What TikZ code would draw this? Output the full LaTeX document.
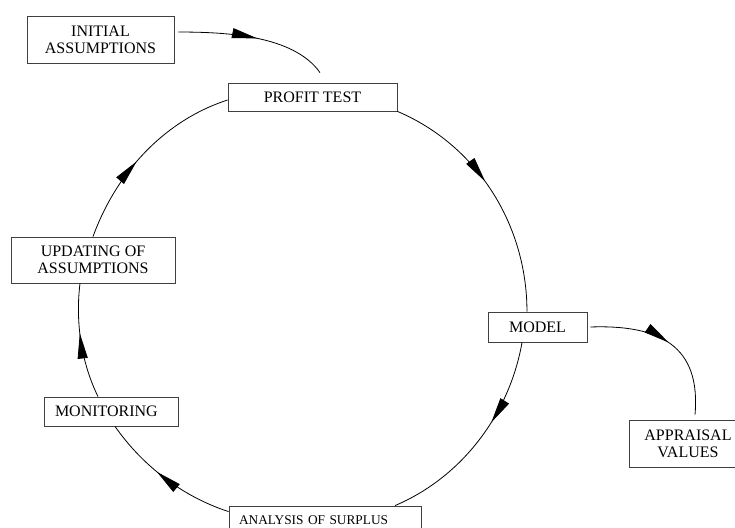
\documentclass[tikz,border=0pt]{standalone}
\usepackage{fontspec}
\setmainfont{Liberation Serif}
\usetikzlibrary{arrows.meta,decorations.markings}

\begin{document}
\begin{tikzpicture}[
        x=0.75pt, y=0.75pt,
        font=\fontsize{12}{13}\selectfont,
        box/.style={draw=black!75, line width=0.6pt, align=center, inner sep=0pt, fill=white},
        midarrow/.style={line width=0.6pt, postaction={decorate},
            decoration={markings, mark=at position #1 with {\arrow{Triangle[length=19pt, width=7.5pt]}}}},
    ]
        \useasboundingbox (0,0) rectangle (735,528);
        \clip (0,0) rectangle (735,528);

        \node[box, minimum width=110.25pt, minimum height=35.25pt] (initial) at (100.5,488.5) {INITIAL\\ASSUMPTIONS};
        \node[box, minimum width=126.75pt, minimum height=21pt] (profit) at (312.5,431) {PROFIT TEST};
        \node[box, minimum width=123pt, minimum height=34.5pt] (updating) at (93,268) {UPDATING OF\\ASSUMPTIONS};
        \node[box, minimum height=21.75pt, text width=84pt, inner xsep=8.25pt, align=left] (monitoring) at (111,116.5) {MONITORING};
        \node[box, minimum width=74.25pt, minimum height=22.5pt] (model) at (537.5,201) {MODEL};
        \node[box, minimum height=21pt, text width=129pt, inner xsep=7.5pt, align=left, font=\fontsize{10}{12}\selectfont] (analysis) at (325,8) {ANALYSIS OF SURPLUS};
        \node[box, minimum width=88.5pt, minimum height=35.25pt] (appraisal) at (688,84.5) {APPRAISAL\\VALUES};

        \draw[midarrow=0.52] ([xshift=3pt, yshift=5.6pt]initial.east) to[out=0, in=125, looseness=0.8] ([xshift=5.6pt, yshift=7.5pt]profit.north);

        \draw[midarrow=0.45] (profit.south east) to[out=-23, in=90, looseness=0.93] ([xshift=-7.9pt]model.north);
        \draw[midarrow=0.4] ([xshift=-11.6pt]model.south) to[out=-100, in=23, looseness=0.9] ([xshift=52.5pt]analysis.north);
        \draw[midarrow=0.57] ([yshift=-4.5pt]analysis.north west) to[out=162, in=-55, looseness=0.87] ([xshift=3pt]monitoring.south);
        \draw[midarrow=0.57] ([xshift=-9.75pt]monitoring.north) to[out=116, in=-97, looseness=0.86] ([xshift=-9.75pt]updating.south);
        \draw[midarrow=0.44] (updating.north) to[out=70, in=-162, looseness=0.9] ([yshift=-2.25pt]profit.west);

        \draw[midarrow=0.5] ([xshift=2.25pt]model.east) to[out=2, in=85, looseness=1.3] ([xshift=5.25pt, yshift=3.75pt]appraisal.north);
\end{tikzpicture}
\end{document}
